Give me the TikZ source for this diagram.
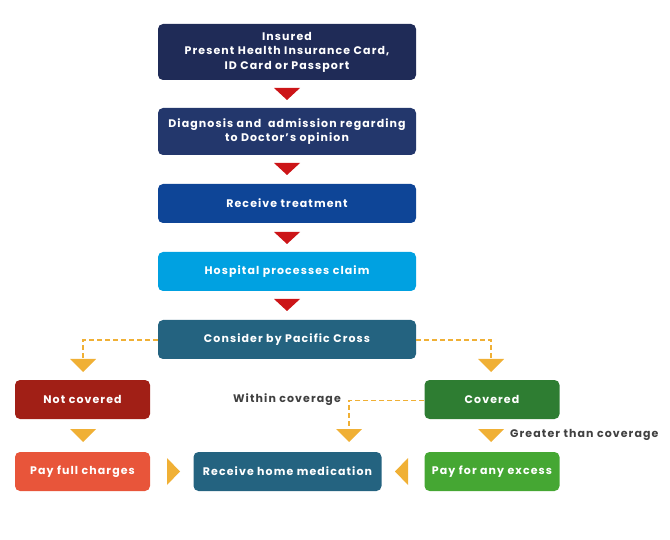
\documentclass[tikz,border=0pt]{standalone}
\usepackage{fontspec}
\setmainfont{Poppins}[LetterSpace=10]
\definecolor{cA}{HTML}{1F2B57}
\definecolor{cB}{HTML}{23376C}
\definecolor{cC}{HTML}{0E4597}
\definecolor{cD}{HTML}{00A1E1}
\definecolor{cE}{HTML}{246380}
\definecolor{cNC}{HTML}{A11F16}
\definecolor{cPF}{HTML}{E8553A}
\definecolor{cCov}{HTML}{2E7D32}
\definecolor{cPE}{HTML}{45A733}
\definecolor{redT}{HTML}{CC1518}
\definecolor{orT}{HTML}{F0B035}
\definecolor{labT}{HTML}{404040}
\begin{document}
\begin{tikzpicture}[x=1pt,y=-1pt,
  box/.style={rounded corners=5pt, text=white, font=\fontsize{11}{14.5}\selectfont\bfseries, align=center, inner sep=0pt},
  dl/.style={draw=orT, dash pattern=on 5pt off 3pt, line width=1.4pt},
  lbl/.style={text=labT, font=\fontsize{11}{13.5}\selectfont\bfseries, inner sep=0pt}]
\useasboundingbox (0,0) rectangle (670,540);
% main boxes
\node[box, fill=cA, minimum width=258pt, minimum height=56pt] (b1) at (287,52) {Insured\\Present Health Insurance Card,\\ID Card or Passport};
\node[box, fill=cB, minimum width=258pt, minimum height=47pt] (b2) at (287,131.5) {Diagnosis and\ \ admission regarding\\to Doctor's opinion};
\node[box, fill=cC, minimum width=258pt, minimum height=39pt] (b3) at (287,203.5) {Receive treatment};
\node[box, fill=cD, minimum width=258pt, minimum height=39pt] (b4) at (287,271.5) {Hospital processes claim};
\node[box, fill=cE, minimum width=258pt, minimum height=39pt] (b5) at (287,339.5) {Consider by Pacific Cross};
% lower boxes
\node[box, fill=cNC, minimum width=135pt, minimum height=39pt] (nc) at (82.5,399.5) {Not covered};
\node[box, fill=cCov, minimum width=135pt, minimum height=39pt] (cov) at (492,399.5) {Covered};
\node[box, fill=cPF, minimum width=135pt, minimum height=39pt] (pf) at (82.5,471.5) {Pay full charges};
\node[box, fill=cE, minimum width=188pt, minimum height=39pt] (rh) at (287.5,471.5) {Receive home medication};
\node[box, fill=cPE, minimum width=135pt, minimum height=39pt] (pe) at (492,471.5) {Pay for any excess};
% red triangles
\foreach \y in {88,163,232,299} {
  \fill[redT] (274,\y) -- (300,\y) -- (287,\y+12) -- cycle;
}
% dashed connectors
\coordinate (lc) at (83,358);
\coordinate (rc) at (491,358);
\coordinate (wc) at (349,428);
\draw[dl] ([yshift=-0.5pt]b5.west) -| (lc);
\draw[dl] ([yshift=-0.5pt]b5.east) -| (rc);
\draw[dl] ([yshift=-1pt]cov.west) -| (wc);
% orange triangles (down)
\foreach \x/\y in {83/359, 491/359, 83/429, 349/429, 491/429} {
  \fill[orT] (\x-13,\y) -- (\x+13,\y) -- (\x,\y+13) -- cycle;
}
% side triangles
\fill[orT] (167,458) -- (180,471.5) -- (167,485) -- cycle;
\fill[orT] (408,458) -- (395,471.5) -- (408,485) -- cycle;
% labels
\node[lbl, anchor=east] (wl) at (341,400) {Within coverage};
\node[lbl, anchor=west] (gl) at (510,435) {Greater than coverage};
\end{tikzpicture}
\end{document}
